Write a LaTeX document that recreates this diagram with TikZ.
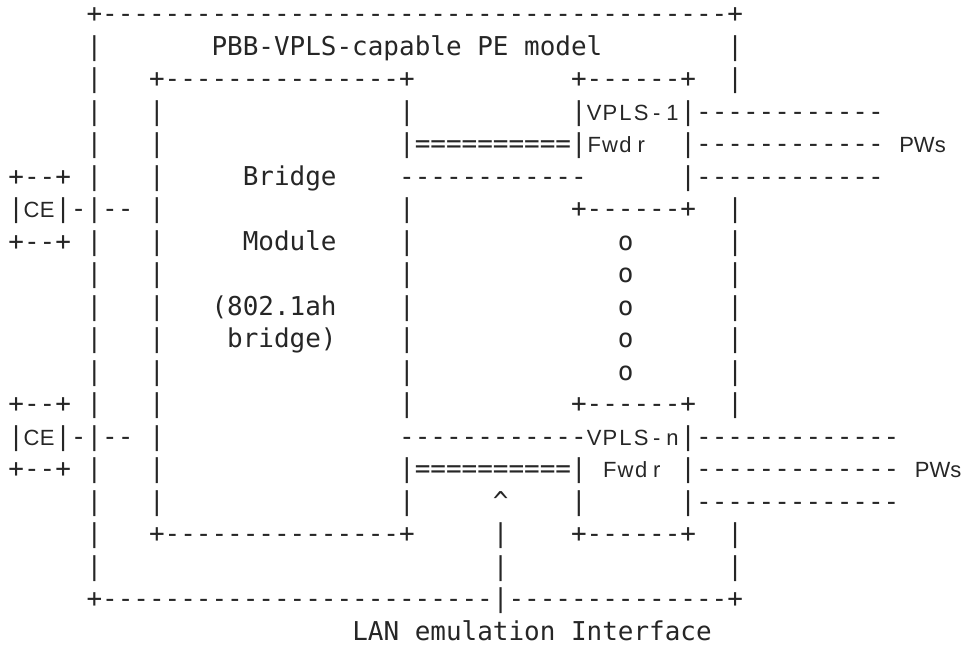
\documentclass[tikz,border=0pt]{standalone}
\usepackage{fontspec}
\newfontfamily\asciifont{DejaVu Sans Mono}[Ligatures=TeXOff]
\newfontfamily\labelfont{Liberation Sans}
\definecolor{ink}{HTML}{262626}
\tikzset{
  mono/.style={font=\asciifont\fontsize{25.96pt}{31pt}\selectfont, text=ink, anchor=base west, inner sep=0pt},
  sans/.style={font=\labelfont\fontsize{22pt}{26pt}\selectfont, text=ink, anchor=base, inner sep=0pt}
}
\newcommand{\chunk}[3]{\node[mono] (m#2-#1) at ({8.2+15.63*#1},{22.5+32.5*#2}) {#3};}
\newcommand{\spread}[3]{\foreach \ch [count=\k from 0] in {#3}
  \node[sans] (s#2-#1-\k) at ({8.2+15.63*(#1+\k+0.5)},{22.5+32.5*#2}) {\ch};}
\newcommand{\word}[3]{\node[sans,anchor=base west] (w#2-#1) at ({8.2+15.63*#1},{22.5+32.5*#2}) {#3};}
\begin{document}
\begin{tikzpicture}[x=1pt,y=-1pt]
\useasboundingbox (0,0) rectangle (961,645);
\chunk{5}{0}{+----------------------------------------+}
\chunk{5}{1}{|} \chunk{13}{1}{PBB-VPLS-capable PE model} \chunk{46}{1}{|}
\chunk{5}{2}{|} \chunk{9}{2}{+---------------+} \chunk{36}{2}{+------+} \chunk{46}{2}{|}
\chunk{5}{3}{|} \chunk{9}{3}{|} \chunk{25}{3}{|} \chunk{36}{3}{|}
\spread{37}{3}{V,P,L,S,-,1}
\chunk{43}{3}{|------------}
\chunk{5}{4}{|} \chunk{9}{4}{|} \chunk{25}{4}{|==========|}
\spread{37}{4}{F,w,d,r}
\chunk{43}{4}{|------------} \word{57}{4}{PWs}
\chunk{0}{5}{+--+} \chunk{5}{5}{|} \chunk{9}{5}{|} \chunk{15}{5}{Bridge}
\chunk{25}{5}{------------} \chunk{43}{5}{|------------}
\chunk{0}{6}{|} \spread{1}{6}{C,E} \chunk{3}{6}{|-|--} \chunk{9}{6}{|} \chunk{25}{6}{|}
\chunk{36}{6}{+------+} \chunk{46}{6}{|}
\chunk{0}{7}{+--+} \chunk{15}{7}{Module}
\chunk{13}{9}{(802.1ah}
\chunk{14}{10}{bridge)}
\foreach \r in {7,...,11} {
  \chunk{5}{\r}{|} \chunk{9}{\r}{|} \chunk{25}{\r}{|} \chunk{39}{\r}{o} \chunk{46}{\r}{|}
}
\chunk{0}{12}{+--+} \chunk{5}{12}{|} \chunk{9}{12}{|} \chunk{25}{12}{|}
\chunk{36}{12}{+------+} \chunk{46}{12}{|}
\chunk{0}{13}{|} \spread{1}{13}{C,E} \chunk{3}{13}{|-|--} \chunk{9}{13}{|}
\chunk{25}{13}{------------} \spread{37}{13}{V,P,L,S,-,n}
\chunk{43}{13}{|-------------}
\chunk{0}{14}{+--+} \chunk{5}{14}{|} \chunk{9}{14}{|} \chunk{25}{14}{|==========|}
\spread{38}{14}{F,w,d,r}
\chunk{43}{14}{|-------------} \word{58}{14}{PWs}
\chunk{5}{15}{|} \chunk{9}{15}{|} \chunk{25}{15}{|} \chunk{31}{15}{\textasciicircum}
\chunk{36}{15}{|} \chunk{43}{15}{|-------------}
\chunk{5}{16}{|} \chunk{9}{16}{+---------------+} \chunk{31}{16}{|}
\chunk{36}{16}{+------+} \chunk{46}{16}{|}
\chunk{5}{17}{|} \chunk{31}{17}{|} \chunk{46}{17}{|}
\chunk{5}{18}{+-------------------------|--------------+}
\chunk{22}{19}{LAN emulation Interface}
\end{tikzpicture}
\end{document}
